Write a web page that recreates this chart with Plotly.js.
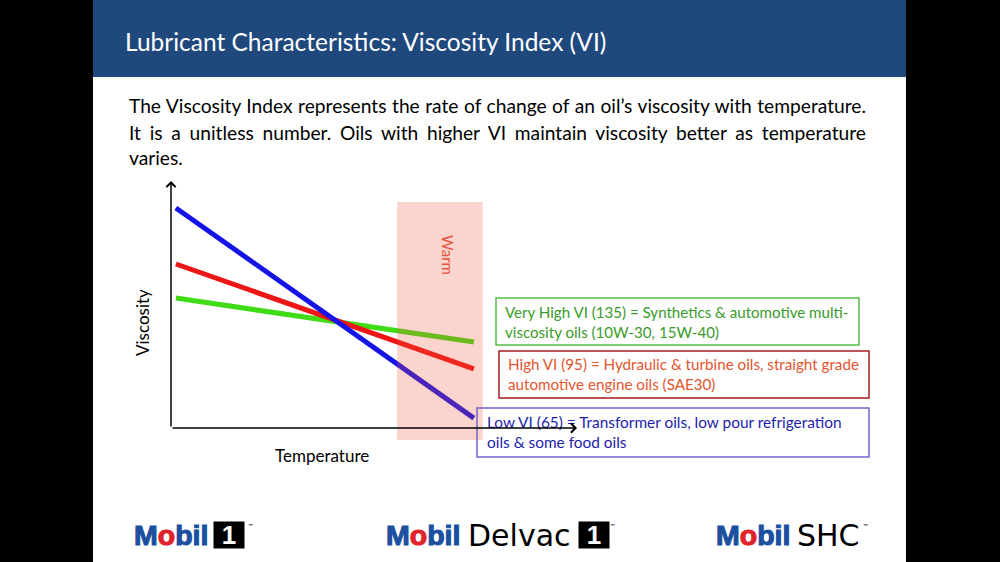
<!DOCTYPE html>
<html><head><meta charset="utf-8">
<script src="https://cdn.plot.ly/plotly-3.0.1.min.js"></script>
<style>html,body{margin:0;padding:0;background:#000;} #chart{width:1000px;height:562px;}</style>
</head><body><div id="chart"></div>
<script>
// ---- data ----
const temperature = [1.2, 74.6];          // start / end of each line (x, arbitrary units)
const lowVI = [89.1, 4.0];                 // Low VI (65)
const highVI = [66.4, 23.9];               // High VI (95)
const veryHighVI = [52.6, 34.8];           // Very High VI (135)
const warmX = [55.7, 76.8];
const warmY = [-4.9, 91.5];
const xRange = [0, 100];
const yRange = [-6, 100];

const titleText = 'Lubricant Characteristics: Viscosity Index (VI)';
const bodyLines = [
  'The Viscosity Index represents the rate of change of an oil\u2019s viscosity with temperature.',
  'It is a unitless number. Oils with higher VI maintain viscosity better as temperature',
  'varies.'
];
const boxTexts = [
  ['Very High VI (135) = Synthetics & automotive multi-', 'viscosity oils (10W-30, 15W-40)'],
  ['High VI (95) = Hydraulic & turbine oils, straight grade', 'automotive engine oils (SAE30)'],
  ['Low VI (65) = Transformer oils, low pour refrigeration', 'oils & some food oils']
];

// ---- helpers ----
const W = 1000, H = 562;
const px = v => v / W;
const py = v => 1 - v / H;
const FONT = 'Lato, "Open Sans", sans-serif';

const traces = [
  {x: temperature, y: veryHighVI, mode: 'lines', line: {color: '#3fdc16', width: 5}, name: 'Very High VI (135)'},
  {x: temperature, y: highVI, mode: 'lines', line: {color: '#ee1515', width: 5}, name: 'High VI (95)'},
  {x: temperature, y: lowVI, mode: 'lines', line: {color: '#1414e6', width: 5}, name: 'Low VI (65)'}
];

const shapes = [
  {type: 'rect', xref: 'paper', yref: 'paper', x0: 0, x1: px(93), y0: 0, y1: 1, fillcolor: '#000', line: {width: 0}, layer: 'below'},
  {type: 'rect', xref: 'paper', yref: 'paper', x0: px(906), x1: 1, y0: 0, y1: 1, fillcolor: '#000', line: {width: 0}, layer: 'below'},
  {type: 'rect', xref: 'paper', yref: 'paper', x0: px(93), x1: px(906), y0: py(77), y1: 1, fillcolor: '#1f497d', line: {width: 0}, layer: 'below'},
  {type: 'rect', xref: 'x', yref: 'y', x0: warmX[0], x1: warmX[1], y0: warmY[0], y1: warmY[1], fillcolor: 'rgba(239,87,55,0.25)', line: {width: 0}, layer: 'above'},
  {type: 'rect', xref: 'paper', yref: 'paper', x0: px(496), x1: px(859), y0: py(345), y1: py(298), line: {color: '#55bf45', width: 1.5}, fillcolor: 'rgba(0,0,0,0)', layer: 'above'},
  {type: 'rect', xref: 'paper', yref: 'paper', x0: px(499), x1: px(869), y0: py(398), y1: py(351), line: {color: '#a51c1c', width: 1.5}, fillcolor: 'rgba(0,0,0,0)', layer: 'above'},
  {type: 'rect', xref: 'paper', yref: 'paper', x0: px(477), x1: px(869), y0: py(457), y1: py(408), line: {color: '#7464cc', width: 1.5}, fillcolor: 'rgba(0,0,0,0)', layer: 'above'}
];

const ann = [];
function txt(text, x, y, opts) {
  ann.push(Object.assign({text: text, xref: 'paper', yref: 'paper', x: px(x), y: py(y), showarrow: false,
    xanchor: 'left', yanchor: 'middle', align: 'left', font: {family: FONT, size: 16, color: '#000'}}, opts || {}));
}
txt(titleText, 123, 42, {font: {family: FONT, size: 24.5, color: '#ffffff'}});
const bodyY = [106, 132, 157];
bodyLines.forEach((l, i) => txt(l, 127, bodyY[i], {font: {family: FONT, size: 19.2, color: '#000'}}));
txt('Viscosity', 142, 323, {textangle: -90, xanchor: 'center', font: {family: FONT, size: 17, color: '#000'}});
txt('Temperature', 322, 455, {xanchor: 'center', font: {family: FONT, size: 17, color: '#000'}});
txt('Warm', 448, 255, {textangle: 90, xanchor: 'center', font: {family: FONT, size: 15, color: '#e5533b'}});
const boxLeft = [503, 506, 485];
const boxLineY = [[312, 332], [364, 384], [422, 442]];
const boxColors = ['#3a9a2a', '#e4542e', '#1e1eaa'];
const boxSizes = [15.1, 15.2, 15.4];
boxTexts.forEach((lines, i) => lines.forEach((l, j) => txt(l, boxLeft[i], boxLineY[i][j], {font: {family: FONT, size: boxSizes[i], color: boxColors[i]}})));

ann.push({x: xRange[1], y: 0, ax: 0, ay: 0, xref: 'x', yref: 'y', axref: 'x', ayref: 'y', text: '', showarrow: true,
  arrowhead: 4, arrowsize: 1.2, arrowwidth: 1.5, arrowcolor: '#000', standoff: 0, startstandoff: 0});
ann.push({x: 0, y: yRange[1], ax: 0, ay: 0, xref: 'x', yref: 'y', axref: 'x', ayref: 'y', text: '', showarrow: true,
  arrowhead: 4, arrowsize: 1.2, arrowwidth: 1.5, arrowcolor: '#000', standoff: 0, startstandoff: 0});

// logos
const mobil = 'M<span style="fill:#e1242b">o</span>bil';
const LOGO_FONT = {family: '"Liberation Sans", Arial, sans-serif', size: 28.5, weight: 'bold', color: '#1b4f9f'};
const REG_FONT = {family: '"DejaVu Sans", sans-serif', size: 30, color: '#000'};
function one(x) {
  ann.push({text: '<b>1</b>', xref: 'paper', yref: 'paper', x: px(x), y: py(535), xanchor: 'left', yanchor: 'middle',
    showarrow: false, bgcolor: '#000', width: 26, height: 22, borderpad: 2,
    font: {family: '"Liberation Sans", Arial, sans-serif', size: 26, color: '#fff'}});
}
function tm(x) { txt('\u2122', x, 525, {font: {family: FONT, size: 6, color: '#000'}}); }
txt(mobil, 132, 535, {font: LOGO_FONT});
one(213); tm(246);
txt(mobil, 384, 535, {font: LOGO_FONT});
txt('Delvac', 466, 535, {font: REG_FONT});
one(578); tm(608);
txt(mobil, 714, 535, {font: LOGO_FONT});
txt('SHC', 795, 535, {font: REG_FONT});
tm(861);

const layout = {
  width: W, height: H, margin: {l: 0, r: 0, t: 0, b: 0, pad: 0},
  paper_bgcolor: '#ffffff', plot_bgcolor: 'rgba(0,0,0,0)', showlegend: false,
  xaxis: {domain: [px(171), px(577)], range: xRange, visible: false, fixedrange: true},
  yaxis: {domain: [py(428 + 6 * 2.47), py(181)], range: yRange, visible: false, fixedrange: true},
  shapes: shapes, annotations: ann
};
Plotly.newPlot('chart', traces, layout, {displayModeBar: false, staticPlot: true}).then(() => {
  const texts = document.querySelectorAll('.annotation-text');
  texts.forEach(el => {
    const t = el.textContent;
    // justify the first two body lines to the right margin
    if (t === bodyLines[0] || t === bodyLines[1]) {
      const bb = el.getBoundingClientRect();
      const spaces = (t.match(/ /g) || []).length;
      const target = 866 - bb.left;
      const ws = (target - bb.width) / spaces;
      el.style.wordSpacing = ws + 'px';
    }
    // heavier logo lettering
    if (t === 'Mobil') {
      el.style.stroke = '#1b4f9f';
      el.style.strokeWidth = '1.1px';
      el.querySelectorAll('tspan').forEach(ts => {
        if (ts.style.fill) { ts.style.stroke = ts.style.fill; }
      });
    }
  });
});
</script>
</body></html>
